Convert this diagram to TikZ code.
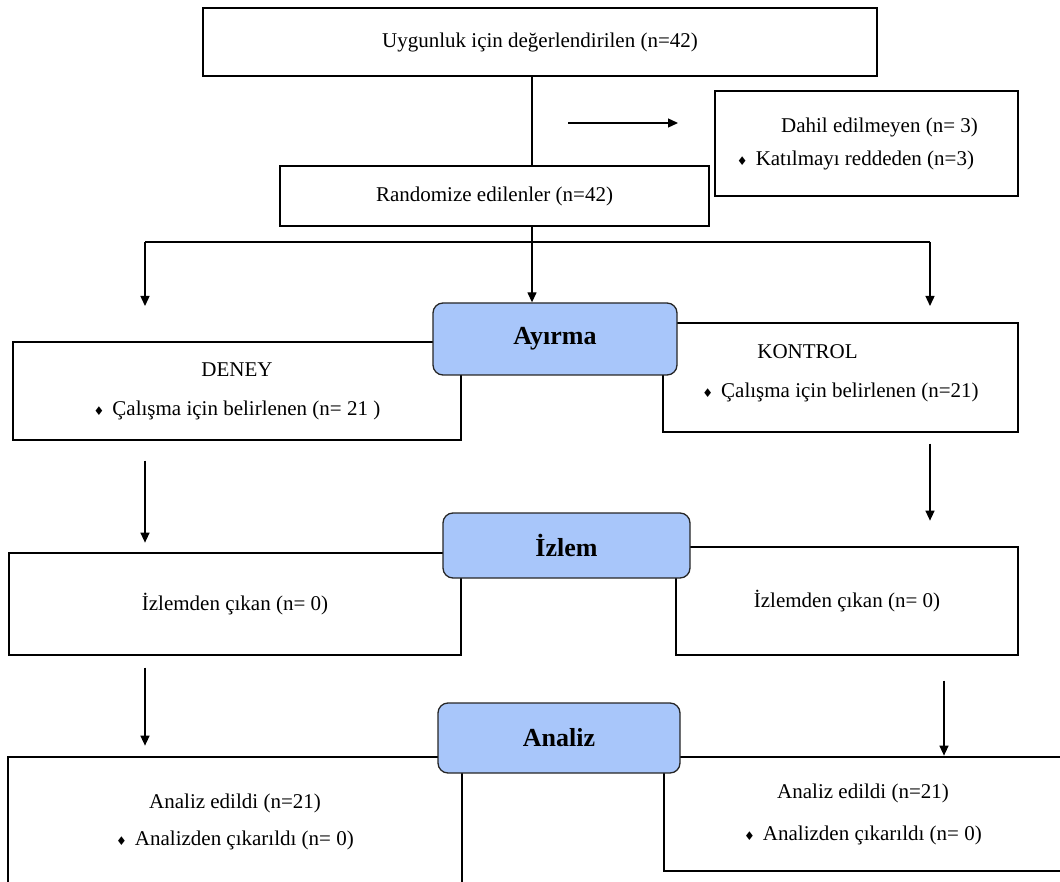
\documentclass[tikz,border=0pt]{standalone}
\usepackage{fontspec}
\setmainfont{Liberation Serif}
\newfontfamily\symfont{DejaVu Sans}
\usepackage{tikz}
\usetikzlibrary{arrows.meta}
\definecolor{phaseblue}{RGB}{168,198,250}
\newcommand{\bul}{{\symfont\fontsize{12}{12}\selectfont\char"2666}\hspace{8pt}}

\begin{document}
\begin{tikzpicture}[x=1pt,y=-1pt,->,>={Triangle[length=10pt,width=9pt]},line width=1.3pt,
                    font=\fontsize{21}{39}\selectfont]
  \tikzstyle{box}=[draw=black,rectangle,align=center,inner sep=0pt]
  \tikzstyle{phase}=[draw=black!85,fill=phaseblue,rounded corners=10pt,inner sep=0pt,
                     font=\fontsize{26}{30}\selectfont\bfseries]
  \useasboundingbox (0,0) rectangle (1060,882);

  \node[box,minimum width=674pt,minimum height=68pt]  (uygun)   at (540,42)      {Uygunluk için değerlendirilen (n=42)};
  \node[box,minimum width=429pt,minimum height=60pt]  (rand)    at (494.5,196)   {Randomize edilenler (n=42)};
  \node[box,minimum width=303pt,minimum height=105pt] (dahil)   at (866.5,143.5) {\hspace*{26pt}Dahil edilmeyen (n= 3)\\[-6pt]\bul Katılmayı reddeden (n=3)\hspace*{22pt}};
  \node[box,minimum width=448pt,minimum height=98pt]  (deney)   at (237,391)     {DENEY\\\bul Çalışma için belirlenen (n= 21 )};
  \node[box,minimum width=355pt,minimum height=109pt] (kontrol) at (840.5,377.5) {KONTROL\hspace*{66pt}\\\bul Çalışma için belirlenen (n=21)\\[-26pt]~};
  \node[box,minimum width=452pt,minimum height=102pt] (izlemL)  at (235,604)     {İzlemden çıkan (n= 0)};
  \node[box,minimum width=342pt,minimum height=108pt] (izlemR)  at (847,601)     {İzlemden çıkan (n= 0)};
  \node[box,minimum width=454pt,minimum height=129pt] (analizL) at (235,821.5)   {Analiz edildi (n=21)\\[-2pt]\bul Analizden çıkarıldı (n= 0)};
  \node[box,minimum width=398pt,minimum height=114pt] (analizR) at (863,814)     {Analiz edildi (n=21)\\[3pt]\bul Analizden çıkarıldı (n= 0)};

  \node[phase,minimum width=244pt,minimum height=72pt] (ayirma) at (555,339)     {Ayırma};
  \node[phase,minimum width=247pt,minimum height=65pt] (izlem)  at (566.5,545.5) {İzlem};
  \node[phase,minimum width=242pt,minimum height=70pt] (analiz) at (559,738)     {Analiz};

  \coordinate (mid) at (532,0);
  \coordinate (brL) at (145,242);
  \coordinate (brR) at (930,242);
  \coordinate (lowR) at (944,0);
  \coordinate (ex) at (568,123);

  \draw[-] (uygun.south -| mid) -- (rand.north -| mid);
  \draw (ex) -- ++(110,0);
  \draw (rand.south -| mid) -- (ayirma.north -| mid);
  \draw[-] (brL) -- (brR);
  \draw (brL) -- ++(0,64);
  \draw (brR) -- ++(0,64);

  \draw ([yshift=-20pt]deney.south -| brL) -- +(0,82);
  \draw ([yshift=-11pt]kontrol.south -| brR) -- +(0,77);
  \draw ([yshift=-12pt]izlemL.south -| brL) -- +(0,78);
  \draw ([yshift=-25pt]izlemR.south -| lowR) -- +(0,75);
\end{tikzpicture}
\end{document}
